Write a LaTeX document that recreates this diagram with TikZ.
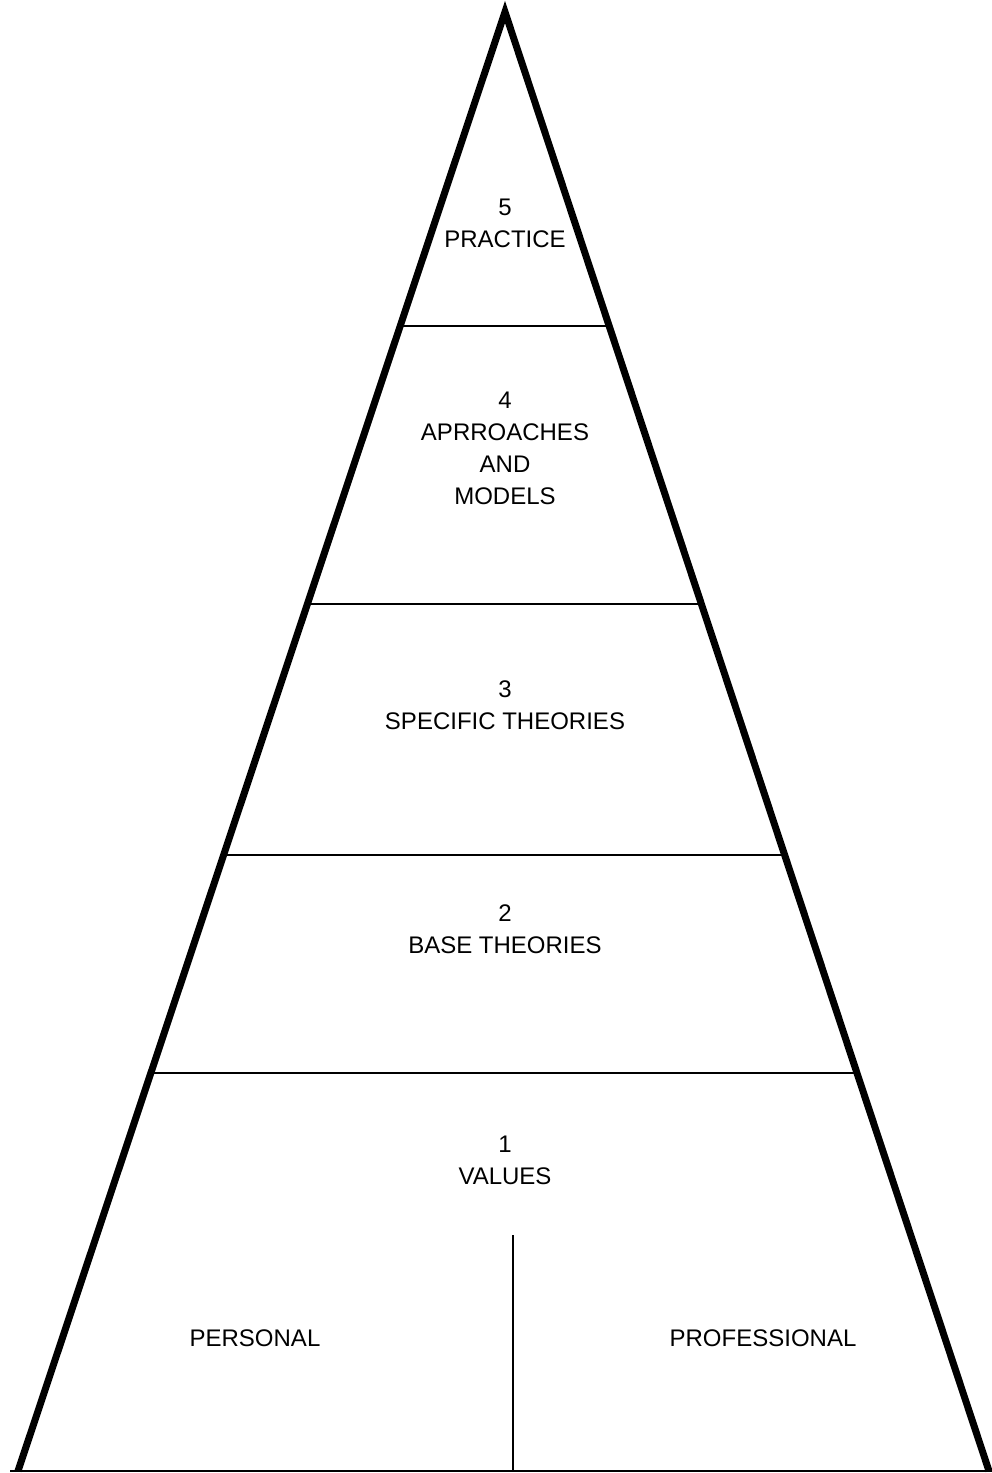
\documentclass[tikz,border=0pt]{standalone}
\usepackage{fontspec}
\setmainfont{Liberation Sans}
\usetikzlibrary{calc}
\begin{document}
\begin{tikzpicture}[x=1pt,y=-1pt,
  edge/.style={line width=7pt,line join=miter,line cap=butt},
  divider/.style={line width=1.6pt},
  label/.style={align=center,inner sep=0pt,font=\fontsize{24}{32}\selectfont}]
\useasboundingbox (0,0) rectangle (992,1473);
% triangle corners
\coordinate (apex) at (505,12);
\coordinate (bl) at (18,1471);
\coordinate (br) at (989,1471);
% level dividers
\foreach \t/\n in {0.2152/a,0.4058/b,0.5778/c,0.7272/d}{
  \coordinate (L\n) at ($(apex)!\t!(bl)$);
  \coordinate (R\n) at ($(apex)!\t!(br)$);
  \draw[divider] (L\n) -- (R\n);
}
% split of the base level
\coordinate (vtop) at (513,1235);
\coordinate (vbot) at (513,1471);
\draw[divider] (vtop) -- (vbot);
% base line
\coordinate (baseL) at (10,1471);
\coordinate (baseR) at (992,1471);
\draw[divider] (baseL) -- (baseR);
% sloped sides
\draw[edge] (bl) -- (apex) -- (br);
% labels
\node[label] (practice) at (505,223) {5\\PRACTICE};
\node[label] (approaches) at (505,448) {4\\APRROACHES\\AND\\MODELS};
\node[label] (specific) at (505,705) {3\\SPECIFIC THEORIES};
\node[label] (base) at (505,929) {2\\BASE THEORIES};
\node[label] (values) at (505,1160) {1\\VALUES};
\node[label] (personal) at (255,1338) {PERSONAL};
\node[label] (professional) at (763,1338) {PROFESSIONAL};
\end{tikzpicture}
\end{document}
